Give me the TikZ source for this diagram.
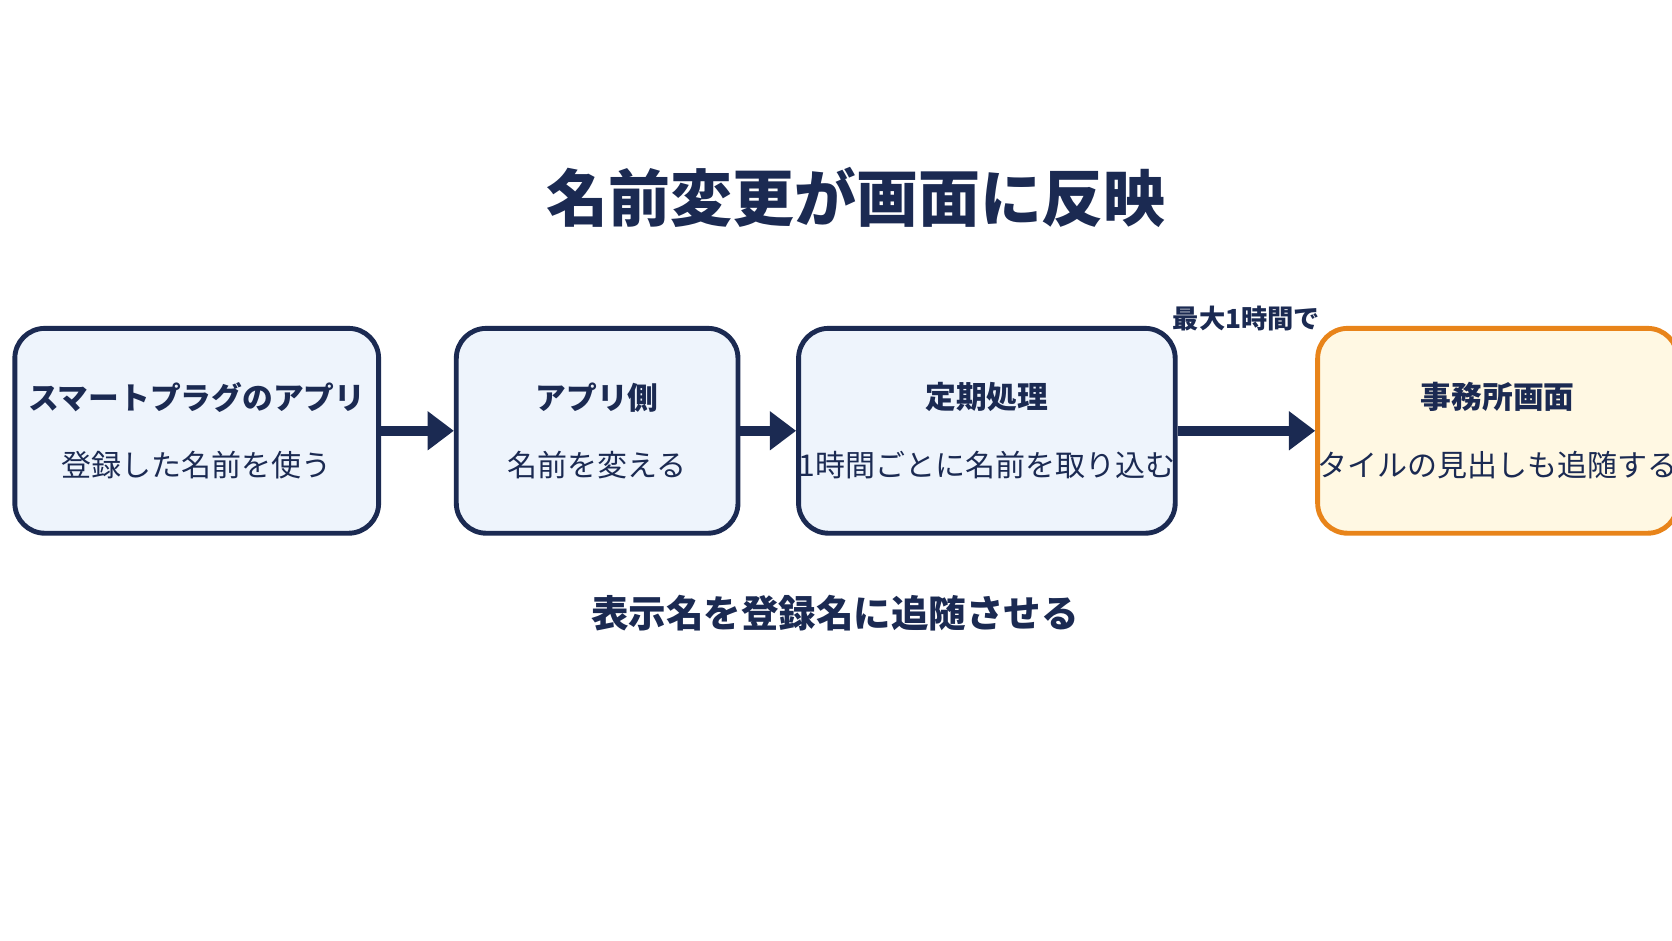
\documentclass[tikz,border=0pt]{standalone}
\usepackage{fontspec}
\setmainfont{Noto Sans CJK JP}
\usetikzlibrary{arrows.meta,positioning}
\definecolor{navy}{HTML}{1B2A52}
\definecolor{boxfill}{HTML}{EEF4FC}
\definecolor{orng}{HTML}{E8841A}
\definecolor{ofill}{HTML}{FFF8E3}
\tikzset{
  stage/.style={draw=navy,line width=1.3pt,rounded corners=8pt,fill=boxfill,
    minimum height=1.92cm,align=center,text=navy,inner sep=0pt},
  goal/.style={stage,draw=orng,fill=ofill},
  flow/.style={-{Triangle[length=7pt,width=10pt]},line width=2.6pt,navy},
}
\newcommand{\boxtext}[2]{{\fontsize{8.2pt}{10pt}\bfseries #1}\\[6pt]{\fontsize{8pt}{10pt}\selectfont #2}}
\begin{document}
\begin{tikzpicture}[x=0.01cm,y=-0.01cm]
\useasboundingbox (0,0) rectangle (1568,882);
\node[text=navy,font=\fontsize{16.5pt}{18pt}\bfseries] (title) at (803,185) {名前変更が画面に反映};

\node[stage,minimum width=3.41cm] (app) at (184.5,404) {\boxtext{スマートプラグのアプリ}{登録した名前を使う}};
\node[stage,minimum width=2.64cm] (side) at (560,404) {\boxtext{アプリ側}{名前を変える}};
\node[stage,minimum width=3.25cm] (sync) at (925.5,404) {\boxtext{定期処理}{1時間ごとに名前を取り込む}};
\node[goal,minimum width=3.01cm] (office) at (1404.5,404) {\boxtext{事務所画面}{タイルの見出しも追随する}};

\draw[flow] (app) -- (side);
\draw[flow] (side) -- (sync);
\draw[flow] (sync) -- node[above=22pt,text=navy,font=\fontsize{7pt}{9pt}\bfseries] {最大1時間で} (office);

\node[text=navy,font=\fontsize{10pt}{12pt}\bfseries] (note) at (783,575) {表示名を登録名に追随させる};
\end{tikzpicture}
\end{document}
